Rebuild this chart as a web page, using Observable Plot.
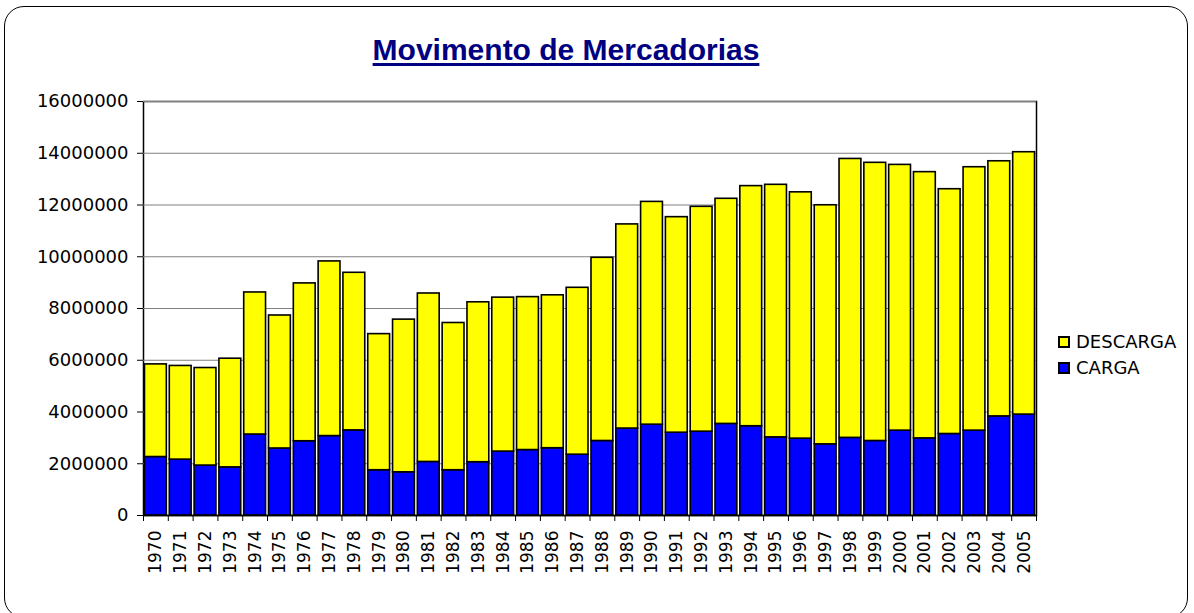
<!DOCTYPE html>
<html>
<head>
<meta charset="utf-8">
<script src="https://cdn.jsdelivr.net/npm/d3@7"></script>
<script src="https://cdn.jsdelivr.net/npm/@observablehq/plot@0.6"></script>
<style>
  html, body { margin: 0; padding: 0; background: #fff; }
  #wrap { position: relative; width: 1194px; height: 613px; overflow: hidden; }
  #frame { position: absolute; left: 4px; top: 6px; width: 1184px; height: 612px;
           border: 1.5px solid #000; border-radius: 20px; box-sizing: border-box; }
  #chart { position: absolute; left: 0; top: 0; }
  #title { position: absolute; left: 0; width: 1132px; top: 35px; text-align: center;
           font: bold 30px "Liberation Sans", Arial, sans-serif; line-height: 29px; color: #000080;
           text-decoration: underline; text-decoration-thickness: 3px; text-underline-offset: 3px; }
  .leg { position: absolute; left: 1058px; font: 18px "DejaVu Sans", sans-serif; color: #000;
         display: flex; align-items: center; line-height: 20px; }
  .sw { width: 12px; height: 12px; box-sizing: border-box; border: 2px solid #000; margin-right: 6px; }
</style>
</head>
<body>
<div id="wrap">
  <div id="frame"></div>
  <div id="chart"></div>
  <div id="title">Movimento de Mercadorias</div>
  <div id="legend"></div>
</div>
<script>
// Category labels (years)
const years = ["1970","1971","1972","1973","1974","1975","1976","1977","1978","1979",
               "1980","1981","1982","1983","1984","1985","1986","1987","1988","1989",
               "1990","1991","1992","1993","1994","1995","1996","1997","1998","1999",
               "2000","2001","2002","2003","2004","2005"];

// CARGA (blue, bottom)
const carga = [2260000,2160000,1930000,1860000,3130000,2590000,2870000,3070000,3290000,1750000,
               1670000,2070000,1750000,2060000,2470000,2530000,2600000,2350000,2880000,3360000,
               3510000,3200000,3240000,3540000,3450000,3020000,2970000,2750000,3000000,2880000,
               3280000,2980000,3150000,3280000,3830000,3900000];

// DESCARGA (yellow, top)
const descarga = [3580000,3620000,3770000,4200000,5490000,5140000,6100000,6750000,6090000,5260000,
                  5900000,6510000,5690000,6180000,5950000,5910000,5910000,6450000,7080000,7890000,
                  8610000,8330000,8690000,8700000,9280000,9760000,9520000,9240000,10780000,10750000,
                  10270000,10290000,9460000,10180000,9860000,10140000];

const seriesNames = ["CARGA", "DESCARGA"];
const seriesColors = ["#0000ff", "#ffff00"];
const legendOrder = ["DESCARGA", "CARGA"];

const yTicks = [0,2000000,4000000,6000000,8000000,10000000,12000000,14000000,16000000];

const rows = [
  ...years.map((y, i) => ({year: y, series: "CARGA", value: carga[i]})),
  ...years.map((y, i) => ({year: y, series: "DESCARGA", value: descarga[i]}))
];

const W = 1194, H = 613, mL = 143, mR = 158, mT = 101, mB = 98;
const step = (W - mL - mR) / years.length;

const chart = Plot.plot({
  width: W, height: H,
  marginLeft: mL, marginRight: mR, marginTop: mT, marginBottom: mB,
  style: {fontFamily: "DejaVu Sans, sans-serif", fontSize: "18px", color: "#000", background: "transparent"},
  x: {type: "band", domain: years, paddingInner: 0.12, paddingOuter: 0.06, round: false, label: null},
  y: {domain: [0, 16000000], label: null},
  color: {domain: seriesNames, range: seriesColors},
  marks: [
    Plot.frame({stroke: "#000", strokeWidth: 1.5}),
    Plot.gridY(yTicks, {stroke: "#808080", strokeOpacity: 1, strokeWidth: 1.2}),
    Plot.barY(rows, {x: "year", y: "value", fill: "series", z: "series", stroke: "#000", strokeWidth: 1.6}),
    Plot.ruleY([0], {stroke: "#000", strokeWidth: 1.5}),
    Plot.axisY(yTicks, {tickFormat: d3.format("d"), tickSize: 6, tickPadding: 9, fontSize: 18, label: null}),
    Plot.axisX({tickSize: 0, tickRotate: -90, tickPadding: 15, fontSize: 17, label: null}),
    Plot.axisX({tickSize: 6, tickFormat: () => "", dx: -step / 2, label: null}),
    Plot.axisX([years[years.length - 1]], {tickSize: 6, tickFormat: () => "", dx: step / 2, label: null})
  ]
});
document.getElementById("chart").appendChild(chart);

// Legend
const legend = document.getElementById("legend");
const legTops = {DESCARGA: 332, CARGA: 358};
legendOrder.forEach(name => {
  const row = document.createElement("div");
  row.className = "leg";
  row.style.top = legTops[name] + "px";
  const sw = document.createElement("div");
  sw.className = "sw";
  sw.style.background = seriesColors[seriesNames.indexOf(name)];
  row.appendChild(sw);
  row.appendChild(document.createTextNode(name));
  legend.appendChild(row);
});
</script>
</body>
</html>
